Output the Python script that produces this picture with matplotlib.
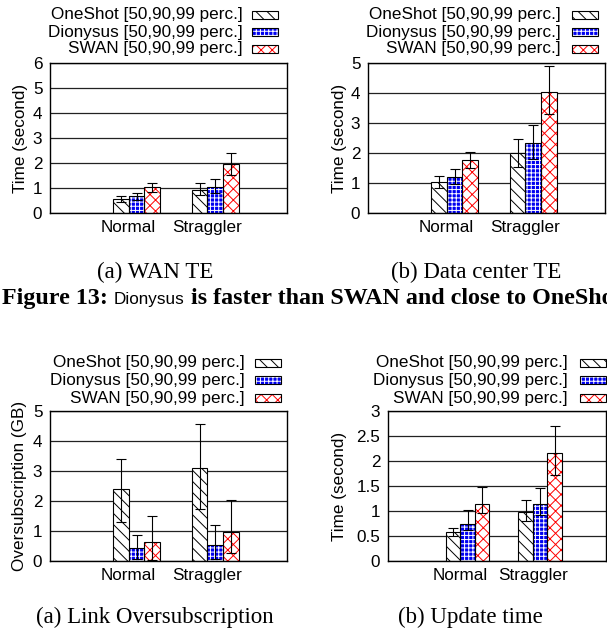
import numpy as np
import matplotlib
matplotlib.use('Agg')
from matplotlib import pyplot as plt
from matplotlib.patches import Rectangle

W, H = 607, 628

groups = ['Normal', 'Straggler']
systems = ['OneShot', 'Dionysus', 'SWAN']

# rows: OneShot, Dionysus, SWAN ; columns: Normal, Straggler
wan_val = [[0.55, 0.93], [0.70, 1.05], [1.03, 1.96]]
wan_lo = [[0.45, 0.72], [0.53, 0.79], [0.85, 1.52]]
wan_hi = [[0.68, 1.19], [0.81, 1.35], [1.21, 2.41]]

dc_val = [[1.03, 1.99], [1.19, 2.32], [1.77, 4.04]]
dc_lo = [[0.84, 1.52], [0.97, 1.81], [1.49, 3.30]]
dc_hi = [[1.23, 2.46], [1.48, 2.92], [2.04, 4.90]]

os_val = [[2.39, 3.09], [0.42, 0.52], [0.63, 0.98]]
os_lo = [[1.29, 1.72], [0.06, 0.06], [0.05, 0.26]]
os_hi = [[3.39, 4.58], [0.88, 1.19], [1.49, 2.03]]

upd_val = [[0.58, 0.99], [0.75, 1.15], [1.15, 2.17]]
upd_lo = [[0.51, 0.80], [0.62, 0.92], [0.97, 1.73]]
upd_hi = [[0.67, 1.23], [1.02, 1.47], [1.49, 2.70]]

styles = {
    'OneShot': dict(face='white', hatch='\\\\\\', hcolor='black'),
    'Dionysus': dict(face='#0000f0', hatch='++++', hcolor='white'),
    'SWAN': dict(face='white', hatch='xxx', hcolor='#ff0000'),
}

plt.rcParams['font.family'] = ['Liberation Sans', 'DejaVu Sans']
plt.rcParams['font.size'] = 12.3
plt.rcParams['hatch.linewidth'] = 0.7

fig = plt.figure(figsize=(W / 100, H / 100), dpi=100)


def fx(x):
    return x / W


def fy(y):
    return 1 - y / H


def legend(text_right, sw_left, rows):
    for s, y in zip(systems, rows):
        st = styles[s]
        fig.text(fx(text_right), fy(y), '%s [50,90,99 perc.]' % s,
                 ha='right', va='center')
        fig.patches.append(Rectangle((fx(sw_left), fy(y + 4)), 26 / W, 8 / H,
                                     transform=fig.transFigure, facecolor=st['face'],
                                     edgecolor=st['hcolor'], hatch=st['hatch'], lw=0))
        fig.patches.append(Rectangle((fx(sw_left), fy(y + 4)), 26 / W, 8 / H,
                                     transform=fig.transFigure, fill=False,
                                     edgecolor='black', lw=0.8))


def panel(rect, val, lo, hi, yticks, ylabel, label_x):
    l, t, r, b = rect
    ax = fig.add_axes([fx(l), fy(b), (r - l) / W, (b - t) / H])
    x = np.arange(len(groups))
    width = 0.2
    for i, s in enumerate(systems):
        xi = x + (i - 1) * width
        st = styles[s]
        v = np.array(val[i])
        ax.bar(xi, v, width, color=st['face'], edgecolor=st['hcolor'],
               hatch=st['hatch'], linewidth=0, zorder=2)
        ax.bar(xi, v, width, fill=False, edgecolor='black', linewidth=0.8, zorder=3)
        ax.errorbar(xi, v, yerr=[v - np.array(lo[i]), np.array(hi[i]) - v],
                    fmt='none', ecolor='black', elinewidth=0.8, capsize=3.5,
                    capthick=0.8, zorder=4)
    ax.set_xlim(-1.1, 1.91)
    ax.set_ylim(yticks[0], yticks[-1])
    ax.set_yticks(yticks)
    ax.set_yticklabels(['%g' % v for v in yticks])
    ax.set_xticks(x - width / 2)
    ax.set_xticklabels(groups)
    ax.tick_params(axis='x', length=0, pad=5)
    ax.tick_params(axis='y', length=0, pad=5.5)
    ax.yaxis.grid(True, color='#222222', lw=0.9)
    ax.set_axisbelow(True)
    for sp in ax.spines.values():
        sp.set_linewidth(1.0)
    ax.set_ylabel(ylabel)
    ax.yaxis.set_label_coords(label_x, 0.5)
    return ax


panel((50, 63, 287, 213), wan_val, wan_lo, wan_hi, [0, 1, 2, 3, 4, 5, 6],
      'Time (second)', -0.093)
legend(243, 252, [15, 32, 49])

panel((368, 63, 605, 213), dc_val, dc_lo, dc_hi, [0, 1, 2, 3, 4, 5],
      'Time (second)', -0.089)
legend(561, 572, [15, 32, 49])

panel((50, 411, 287, 561), os_val, os_lo, os_hi, [0, 1, 2, 3, 4, 5],
      'Oversubscription (GB)', -0.097)
legend(245, 255, [363, 380, 398])

panel((388, 411, 606, 561), upd_val, upd_lo, upd_hi, [0, 0.5, 1, 1.5, 2, 2.5, 3],
      'Time (second)', -0.188)
legend(568, 580, [363, 380, 398])

serif = ['Liberation Serif', 'DejaVu Serif']
fig.text(fx(155), fy(278), '(a) WAN TE', family=serif, size=16.5, ha='center', va='baseline')
fig.text(fx(476), fy(278), '(b) Data center TE', family=serif, size=16.5, ha='center', va='baseline')
fig.text(fx(155), fy(623), '(a) Link Oversubscription', family=serif, size=16.5, ha='center', va='baseline')
fig.text(fx(470), fy(623), '(b) Update time', family=serif, size=16.5, ha='center', va='baseline')

# caption line of the figure above, built from pieces in different fonts
pieces = [('Figure 13: ', serif, 'bold', 17.3),
          ('Dionysus', ['Liberation Sans'], 'normal', 12.3),
          (' is faster than SWAN and close to OneShot.', serif, 'bold', 17.3)]
fig.canvas.draw()
xpos = 2
for txt, fam, wt, sz in pieces:
    t = fig.text(fx(xpos), fy(304), txt, family=fam, weight=wt, size=sz,
                 ha='left', va='baseline')
    bb = t.get_window_extent(fig.canvas.get_renderer())
    xpos = bb.x1

fig.savefig('out.png', dpi=100)
